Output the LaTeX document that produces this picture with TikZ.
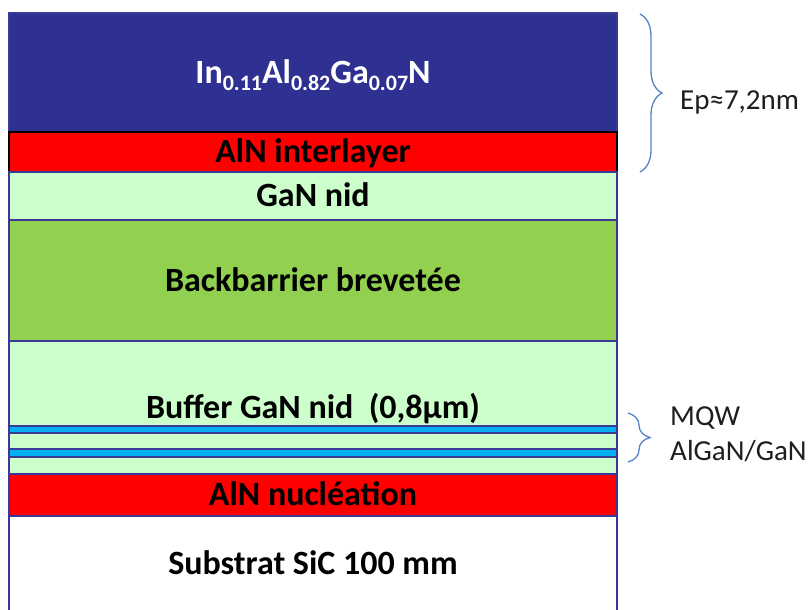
\documentclass[tikz,border=0pt]{standalone}
\usepackage{fontspec}
\setmainfont{Carlito}
\usetikzlibrary{positioning,calc,decorations.pathreplacing}
\definecolor{inalgan}{RGB}{46,49,146}
\definecolor{edgeblue}{RGB}{58,58,150}
\definecolor{gannid}{RGB}{204,255,204}
\definecolor{backbar}{RGB}{146,208,80}
\definecolor{qwblue}{RGB}{0,176,240}
\definecolor{bracecol}{RGB}{84,130,196}
\definecolor{sidetext}{RGB}{30,30,30}
\newcommand{\layersub}[1]{\raisebox{-7pt}{\fontsize{22}{22}\selectfont #1}}
\tikzset{
  layer/.style={draw=edgeblue, line width=1.3pt, minimum width=608pt, inner sep=0pt,
    outer sep=0pt, text height=0pt, text depth=0pt},
  layertext/.style={font=\fontsize{34}{40}\selectfont\bfseries, text height=21pt, text depth=0pt},
  sidebrace/.style={decorate, decoration={brace, amplitude=#1}, draw=bracecol, line width=1.3pt},
  sidelabel/.style={font=\fontsize{29}{35}\selectfont, text=sidetext, anchor=base west, inner sep=0pt}
}
\begin{document}
\begin{tikzpicture}[x=1pt, y=-1pt]
  \useasboundingbox (0,0) rectangle (811,610);
  % layer stack, top to bottom
  \node[layer, layertext, anchor=north, fill=inalgan, text=white, minimum height=119pt] (top) at (313,13)
    {In\layersub{0.11}Al\layersub{0.82}Ga\layersub{0.07}N};
  \node[layer, layertext, below=0pt of top, fill=red, draw=black, minimum height=40pt] (inter) {AlN interlayer};
  \node[layer, layertext, below=0pt of inter, fill=gannid, minimum height=48pt] (gan) {GaN nid};
  \node[layer, layertext, below=0pt of gan, fill=backbar, minimum height=121pt] (bbar) {Backbarrier brevetée};
  \node[layer, below=0pt of bbar, fill=gannid, minimum height=85pt] (buffer) {};
  \node[layer, below=0pt of buffer, fill=qwblue, minimum height=7pt] (qw1) {};
  \node[layer, below=0pt of qw1, fill=gannid, minimum height=16pt] (sp1) {};
  \node[layer, below=0pt of sp1, fill=qwblue, minimum height=8pt] (qw2) {};
  \node[layer, below=0pt of qw2, fill=gannid, minimum height=17pt] (sp2) {};
  \node[layer, layertext, below=0pt of sp2, fill=red, minimum height=42pt] (nucl) {AlN nucléation};
  \node[layer, layertext, below=0pt of nucl, fill=white, minimum height=96pt] (subs) {Substrat SiC 100 mm};
  \node[layertext, inner sep=0pt] (bufftext) at ($(buffer.north)!0.5!(sp2.south)$)
    {Buffer GaN nid~~(0,8µm)};
  % braces
  \coordinate (epA) at (640,14);
  \coordinate (epB) at (640,172);
  \draw[sidebrace=22pt] (epA) -- (epB);
  \node[sidelabel] (eplabel) at (680,110) {Ep≈7,2nm};
  \coordinate (mqwA) at (628,413);
  \coordinate (mqwB) at (628,462);
  \draw[sidebrace=22pt] (mqwA) -- (mqwB);
  \node[sidelabel] (mqwlabel) at (670,425) {MQW};
  \node[sidelabel] (mqwtype) at (670,460) {AlGaN/GaN};
\end{tikzpicture}
\end{document}
